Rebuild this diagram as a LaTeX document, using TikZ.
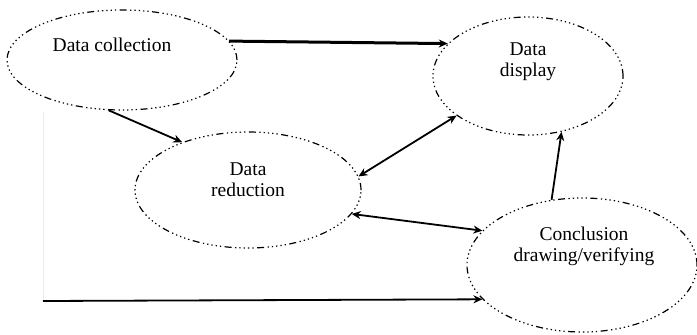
\documentclass[tikz,border=0pt]{standalone}
\usepackage{fontspec}
\setmainfont{Liberation Serif}
\usetikzlibrary{shapes.geometric,arrows.meta}
\begin{document}
\begin{tikzpicture}[x=1pt,y=-1pt,
  stage/.style={draw, ellipse, inner sep=0pt, line width=1.2pt,
    dash pattern=on 7pt off 3.5pt on 1.3pt off 3pt on 1.3pt off 3pt on 1.3pt off 3pt on 1.3pt off 3pt on 1.3pt off 3.5pt},
  caption/.style={font=\fontsize{19.5}{21}\selectfont, align=center, inner sep=0pt},
  tip/.style={Stealth[length=9pt,width=8pt]},
  flow/.style={line width=1.8pt, -{Stealth[length=9pt,width=8pt]}},
  twoway/.style={line width=1.8pt, {Stealth[length=9pt,width=8pt]}-{Stealth[length=9pt,width=8pt]}},
  guide/.style={line width=0.8pt, black!8}]
\useasboundingbox (0,0) rectangle (697,335);

% the four stages of the analysis cycle
\node[stage, minimum width=230pt, minimum height=100pt] (dc) at (122,60) {};
\node[stage, minimum width=190pt, minimum height=118pt] (dd) at (528,76) {};
\node[stage, minimum width=226pt, minimum height=116pt] (dr) at (248,190) {};
\node[stage, minimum width=230pt, minimum height=134pt] (cd) at (582,265) {};

% stage labels
\node[caption] (tdc) at (112,45) {Data collection};
\node[caption] (tdd) at (528,62) {Data\\display};
\node[caption] (tdr) at (248,180) {Data\\reduction};
\node[caption] (tcd) at (584,246) {Conclusion\\drawing/verifying};

% connectors
\draw[flow, line width=3pt] (dc.10) -- (dd.158);
\draw[flow] (dc.-105) -- (dr.144);
\draw[twoway] (dr.7) -- (dd.-151);
\draw[twoway] (dr.-13) -- (cd.161);
\draw[flow] (cd.115) -- (dd.-59);

% feed from data collection straight to conclusions
\coordinate (top) at (43,112);
\coordinate (corner) at (43,301);
\draw[guide] (top) -- (corner);
\draw[flow] (corner) -- (cd.-161);
\end{tikzpicture}
\end{document}
